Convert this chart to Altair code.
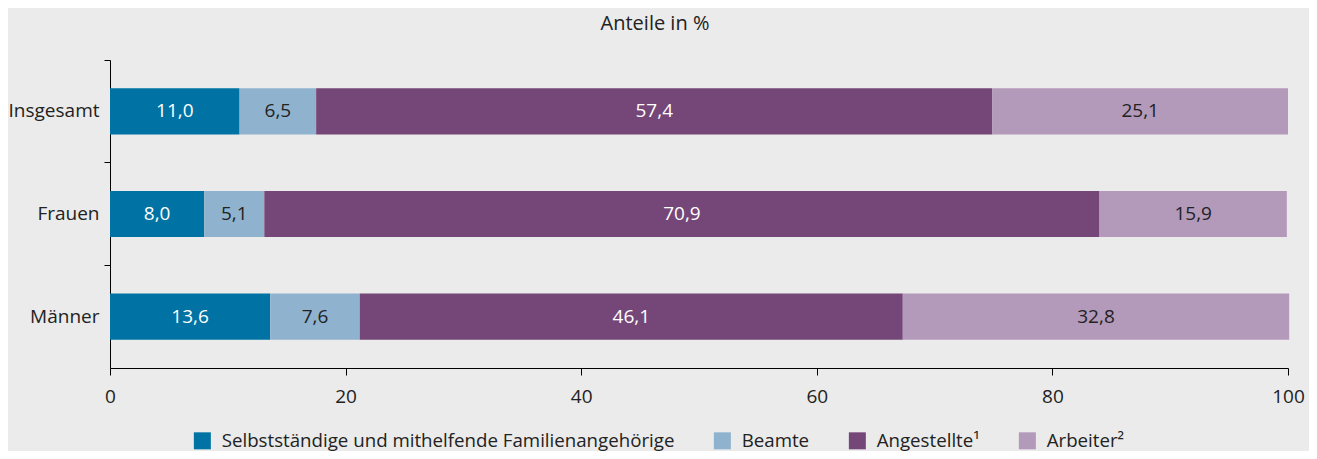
import altair as alt
import pandas as pd

categories = ["Insgesamt", "Frauen", "Männer"]
series = [
    "Selbstständige und mithelfende Familienangehörige",
    "Beamte",
    "Angestellte¹",
    "Arbeiter²",
]
selbststaendige = [11.0, 8.0, 13.6]
beamte = [6.5, 5.1, 7.6]
angestellte = [57.4, 70.9, 46.1]
arbeiter = [25.1, 15.9, 32.8]
x_ticks = [0, 20, 40, 60, 80, 100]
colors = ["#0072a3", "#8fb2cf", "#754678", "#b399ba"]

rows = []
for s_idx, (name, vals) in enumerate(zip(series, [selbststaendige, beamte, angestellte, arbeiter])):
    for cat, v in zip(categories, vals):
        rows.append({"category": cat, "series": name, "value": v, "order": s_idx})
df = pd.DataFrame(rows)

FONT = "Open Sans"
TEXT = "#222222"

base = alt.Chart(df)

y_enc = alt.Y(
    "category:N",
    sort=categories,
    title=None,
    scale=alt.Scale(paddingInner=0.55, paddingOuter=0.275),
    axis=alt.Axis(
        labelFontSize=19,
        labelColor=TEXT,
        labelFont=FONT,
        tickSize=6,
        tickColor="#000000",
        domainColor="#000000",
        labelPadding=5,
        bandPosition=-0.611,
    ),
)

bars = base.mark_bar().encode(
    x=alt.X(
        "value:Q",
        stack="zero",
        scale=alt.Scale(domain=[0, 100], nice=False),
        title=None,
        axis=alt.Axis(
            values=x_ticks,
            labelFontSize=19,
            labelColor=TEXT,
            labelFont=FONT,
            labelFlush=False,
            tickSize=7,
            tickColor="#000000",
            domainColor="#000000",
            labelPadding=12,
            grid=False,
        ),
    ),
    y=y_enc,
    color=alt.Color(
        "series:N",
        scale=alt.Scale(domain=series, range=colors),
        legend=alt.Legend(
            title=None,
            orient="none",
            direction="horizontal",
            legendX=83,
            legendY=371,
            symbolType="square",
            symbolSize=289,
            symbolStrokeWidth=0,
            symbolOpacity=1,
            labelFontSize=18.7,
            labelFont=FONT,
            labelColor=TEXT,
            labelLimit=700,
            labelOffset=10,
            columnPadding=38,
        ),
    ),
    order=alt.Order("order:Q"),
)

labels = (
    base.transform_window(
        cum="sum(value)",
        groupby=["category"],
        sort=[alt.SortField("order")],
        frame=[None, 0],
    )
    .transform_calculate(
        mid="datum.cum - datum.value / 2",
        label="replace(format(datum.value, '.1f'), '.', ',')",
    )
    .mark_text(fontSize=19, font=FONT, baseline="middle", align="center")
    .encode(
        x=alt.X("mid:Q"),
        y=alt.Y("category:N", sort=categories),
        text="label:N",
        color=alt.condition(
            alt.FieldOneOfPredicate(field="series", oneOf=[series[0], series[2]]),
            alt.value("#ffffff"),
            alt.value(TEXT),
        ),
    )
)

chart = (
    alt.layer(bars, labels)
    .properties(
        width=1178,
        height=308,
        background="#eaebea",
        autosize=alt.AutoSizeParams(type="none"),
        padding={"left": 102, "top": 52, "right": 21, "bottom": 83},
        title=alt.TitleParams(
            "Anteile in %",
            fontSize=20,
            font=FONT,
            fontWeight="normal",
            color=TEXT,
            anchor="middle",
            dx=-44,
            offset=26,
        ),
    )
    .configure_view(stroke=None)
)

chart.save("out.html", embed_options={"renderer": "svg", "actions": False})
